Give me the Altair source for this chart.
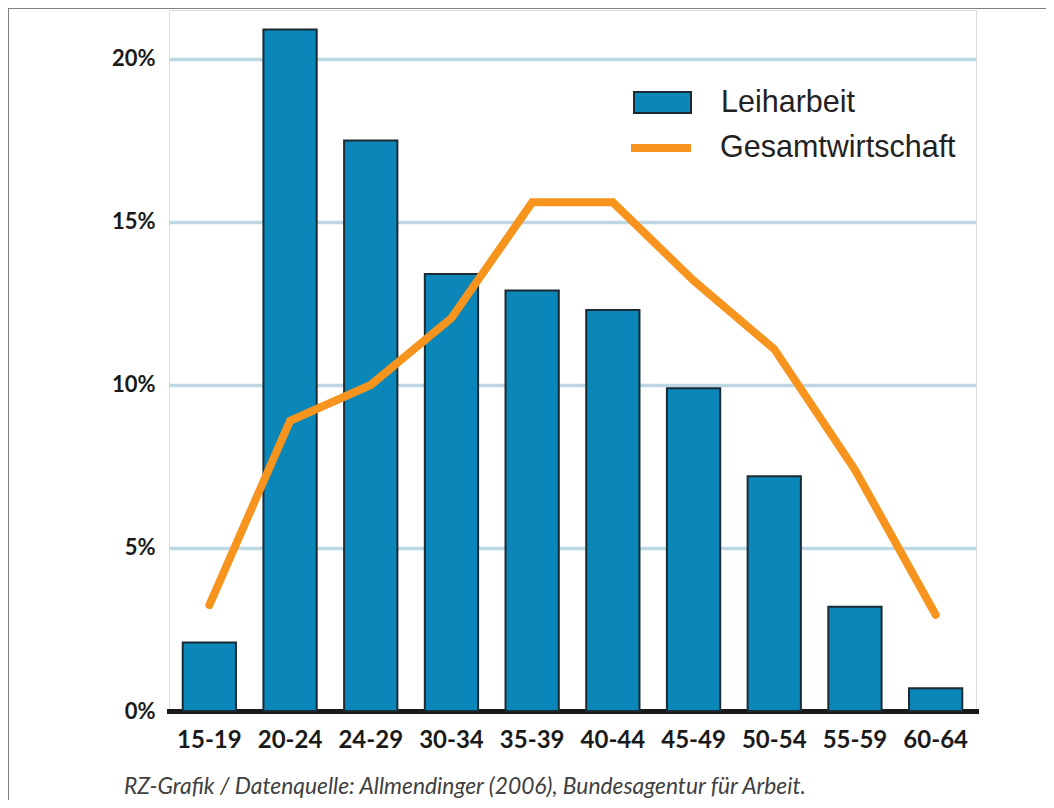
import altair as alt
import pandas as pd

ages = ["15-19", "20-24", "24-29", "30-34", "35-39", "40-44", "45-49", "50-54", "55-59", "60-64"]
leiharbeit = [2.1, 20.9, 17.5, 13.4, 12.9, 12.3, 9.9, 7.2, 3.2, 0.7]
gesamt = [3.25, 8.9, 10.0, 12.05, 15.6, 15.6, 13.2, 11.1, 7.4, 2.95]
y_ticks = [0, 5, 10, 15, 20]
footer = "RZ-Grafik / Datenquelle: Allmendinger (2006), Bundesagentur für Arbeit."

bars_df = pd.DataFrame({"age": ages, "value": leiharbeit, "series": "Leiharbeit"})
line_df = pd.DataFrame({"age": ages, "value": gesamt, "series": "Gesamtwirtschaft"})

x_enc = alt.X(
    "age:N",
    sort=ages,
    title=None,
    scale=alt.Scale(paddingInner=0.34, paddingOuter=0.17),
    axis=alt.Axis(
        labelAngle=0,
        labelFont="Lato",
        labelFontWeight="bold",
        labelFontSize=24,
        labelColor="#1a1a1a",
        labelPadding=17,
        ticks=False,
        domainColor="#1a1a1a",
        domainWidth=5,
        domainCap="square",
        grid=False,
    ),
)

y_scale = alt.Scale(domain=[0, 21.5], nice=False)
y_axis = alt.Axis(
    values=y_ticks,
    labelExpr="datum.value + '%'",
    labelFont="Lato",
    labelFontWeight="bold",
    labelFontSize=22,
    labelColor="#1a1a1a",
    labelPadding=14,
    ticks=False,
    domain=False,
    grid=True,
    gridColor="#bdd7e5",
    gridWidth=3.5,
)

bars = alt.Chart(bars_df).mark_bar(stroke="#1b2a33", strokeWidth=2).encode(
    x=x_enc,
    y=alt.Y("value:Q", scale=y_scale, axis=y_axis, title=None),
    fill=alt.Fill(
        "series:N",
        scale=alt.Scale(domain=["Leiharbeit"], range=["#0a86b9"]),
        legend=alt.Legend(
            title=None,
            orient="none",
            legendX=464,
            legendY=63,
            symbolType="M-1,-0.37H1V0.37H-1Z",
            symbolSize=3249,
            symbolStrokeColor="#1b2a33",
            symbolStrokeWidth=2,
            labelFont="Liberation Sans",
            labelFontSize=30.5,
            labelColor="#222222",
            labelOffset=29,
            labelLimit=0,
            padding=0,
        ),
    ),
)

line = alt.Chart(line_df).mark_line(strokeWidth=8, strokeCap="round", strokeJoin="miter").encode(
    x=alt.X("age:N", sort=ages),
    y=alt.Y("value:Q", scale=y_scale),
    stroke=alt.Stroke(
        "series:N",
        scale=alt.Scale(domain=["Gesamtwirtschaft"], range=["#f7941e"]),
        legend=alt.Legend(
            title=None,
            orient="none",
            legendX=458,
            legendY=104,
            symbolType="stroke",
            symbolSize=3600,
            symbolStrokeWidth=8,
            labelFont="Liberation Sans",
            labelFontSize=30.5,
            labelColor="#222222",
            labelOffset=25,
            labelLimit=0,
            padding=0,
        ),
    ),
)

frame_df = alt.Data(values=[{}])
top_border = alt.Chart(frame_df).mark_rule(color="#808080", strokeWidth=2).encode(
    x=alt.value(-161), x2=alt.value(877), y=alt.value(-2)
)
left_border = alt.Chart(frame_df).mark_rule(color="#808080", strokeWidth=2).encode(
    x=alt.value(-161), y=alt.value(-2), y2=alt.value(790)
)
footer_text = alt.Chart(alt.Data(values=[{"t": footer}])).mark_text(
    align="left",
    baseline="middle",
    font="Lato",
    fontStyle="italic",
    fontSize=22.8,
    color="#404040",
).encode(x=alt.value(-45), y=alt.value(777), text="t:N")

chart = alt.layer(bars, line, top_border, left_border, footer_text).properties(
    width=807,
    height=701,
    padding={"left": 161, "top": 2, "right": 70, "bottom": 89},
    autosize=alt.AutoSizeParams(type="none"),
).resolve_scale(fill="independent", stroke="independent").configure_view(stroke=None).configure(background="white")

chart.save("out.html", embed_options={"renderer": "svg", "actions": False})
